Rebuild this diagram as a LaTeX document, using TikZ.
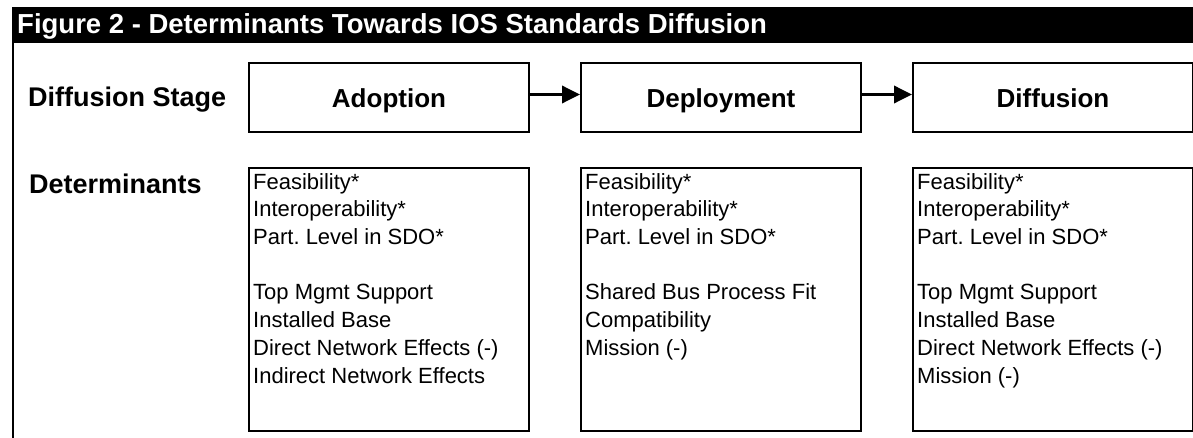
\documentclass[tikz,border=0pt]{standalone}
\usepackage{fontspec}
\setmainfont{Liberation Sans}
\usetikzlibrary{arrows.meta, positioning}
\frenchspacing

\begin{document}
\begin{tikzpicture}[x=1pt, y=-1pt,
  stagebox/.style={draw, line width=2pt, minimum width=280pt, minimum height=69pt, inner sep=0pt,
    text height=20pt, text depth=0pt, font=\fontsize{26}{30}\selectfont\bfseries},
  detbox/.style={draw, line width=2pt, minimum width=280pt, minimum height=263pt, inner sep=0pt},
  detlist/.style={anchor=north west, align=left, inner sep=0pt, font=\fontsize{22}{27.7}\selectfont},
  rowlabel/.style={anchor=base west, inner sep=0pt, font=\fontsize{27}{32}\selectfont\bfseries},
  stagearrow/.style={line width=3.5pt, -{Triangle[length=18pt, width=17pt]}}]
\useasboundingbox (0,0) rectangle (1193,438);
% title bar and frame
\fill (12,7) rectangle (1193,43);
\node[anchor=base west, inner sep=0pt, text=white, font=\fontsize{27.5}{32}\selectfont\bfseries] (title) at (17,34)
  {Figure 2 - Determinants Towards IOS Standards Diffusion};
\draw[line width=2pt] (13,43) -- (13,438);
% diffusion stages
\node[rowlabel] (stagelbl) at (28,107) {Diffusion Stage};
\node[stagebox] (adopt) at (389,97.5) {Adoption};
\node[stagebox, right=50pt of adopt] (deploy) {Deployment};
\node[stagebox, right=50pt of deploy] (diffuse) {Diffusion};
\draw[stagearrow] ([yshift=3pt]adopt.east) -- ([yshift=3pt]deploy.west);
\draw[stagearrow] ([yshift=3pt]deploy.east) -- ([yshift=3pt]diffuse.west);
% determinants
\node[rowlabel] (detlbl) at (29,194) {Determinants};
\node[detbox, below=34pt of adopt] (adoptdet) {};
\node[detbox, below=34pt of deploy] (deploydet) {};
\node[detbox, below=34pt of diffuse] (diffusedet) {};
\node[detlist] (adoptlist) at ([shift={(5pt,-6pt)}]adoptdet.north west)
  {Feasibility*\\Interoperability*\\Part. Level in SDO*\\[27.7pt]Top Mgmt Support\\Installed Base\\Direct Network Effects (-)\\Indirect Network Effects};
\node[detlist] (deploylist) at ([shift={(5pt,-6pt)}]deploydet.north west)
  {Feasibility*\\Interoperability*\\Part. Level in SDO*\\[27.7pt]Shared Bus Process Fit\\Compatibility\\Mission (-)};
\node[detlist] (diffuselist) at ([shift={(5pt,-6pt)}]diffusedet.north west)
  {Feasibility*\\Interoperability*\\Part. Level in SDO*\\[27.7pt]Top Mgmt Support\\Installed Base\\Direct Network Effects (-)\\Mission (-)};
\end{tikzpicture}
\end{document}
